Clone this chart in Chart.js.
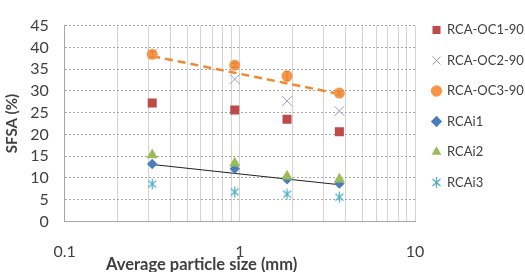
<!DOCTYPE html>
<html>
<head>
<meta charset="utf-8">
<script src="https://cdn.jsdelivr.net/npm/chart.js@4.4.1/dist/chart.umd.min.js"></script>
<style>
  html, body { margin: 0; padding: 0; background: #fff; }
  #wrap { position: relative; width: 525px; height: 272px; }
</style>
</head>
<body>
<div id="wrap"><canvas id="sfsaChart"></canvas></div>
<script>
// particle size (mm)
const sizes = [0.316, 0.935, 1.86, 3.70];

const oc1 = [27.2, 25.6, 23.5, 20.6];
const oc2 = [38.6, 32.7, 27.7, 25.4];
const oc3 = [38.4, 35.9, 33.4, 29.5];
const oc3Err = [0.6, 0.5, 1.1, 0.4];
const rcai1 = [13.2, 12.1, 9.7, 8.7];
const rcai2 = [15.3, 13.4, 10.4, 9.7];
const rcai3 = [8.6, 6.8, 6.3, 5.6];

// trend lines (ends at first and last size)
const oc3Trend = [38.0, 29.3];
const rcai1Trend = [13.1, 8.45];

const xGrid = [0.1, 0.2, 0.3, 0.4, 0.5, 0.6, 0.7, 0.8, 0.9, 1, 2, 3, 4, 5, 6, 7, 8, 9, 10];
const xLabels = [0.1, 1, 10];
const seriesNames = ['RCA-OC1-90', 'RCA-OC2-90', 'RCA-OC3-90', 'RCAi1', 'RCAi2', 'RCAi3'];

const FONT = 'Lato, "Open Sans", sans-serif';
const TXT = '#404040';

function pts(ys) {
    return ys.map((y, i) => ({ x: sizes[i], y: y }));
}
function ends(ys) {
    return [{ x: sizes[0], y: ys[0] }, { x: sizes[sizes.length - 1], y: ys[1] }];
}

// Excel style asterisk marker: vertical bar plus an x
function asterisk(color) {
    const c = document.createElement('canvas');
    c.width = 13; c.height = 13;
    const g = c.getContext('2d');
    g.strokeStyle = color;
    g.lineWidth = 1.2;
    g.beginPath();
    g.moveTo(6.5, 1); g.lineTo(6.5, 12);
    g.moveTo(2.5, 3); g.lineTo(10.5, 10);
    g.moveTo(10.5, 3); g.lineTo(2.5, 10);
    g.stroke();
    return c;
}

const errorBars = {
    id: 'errorBars',
    afterDatasetsDraw(chart) {
        const { ctx, scales } = chart;
        ctx.save();
        ctx.strokeStyle = '#e07f35';
        ctx.lineWidth = 1;
        oc3.forEach((v, i) => {
            const x = scales.x.getPixelForValue(sizes[i]);
            const y1 = scales.y.getPixelForValue(v - oc3Err[i]);
            const y2 = scales.y.getPixelForValue(v + oc3Err[i]);
            ctx.beginPath();
            ctx.moveTo(x, y1); ctx.lineTo(x, y2);
            ctx.moveTo(x - 3, y1); ctx.lineTo(x + 3, y1);
            ctx.moveTo(x - 3, y2); ctx.lineTo(x + 3, y2);
            ctx.stroke();
        });
        ctx.restore();
    }
};

// x axis title sits left of centre in the original
const xTitle = {
    id: 'xTitle',
    afterDraw(chart) {
        const ctx = chart.ctx;
        ctx.save();
        ctx.font = 'bold 16.5px ' + FONT;
        ctx.fillStyle = TXT;
        ctx.textAlign = 'center';
        ctx.textBaseline = 'middle';
        ctx.fillText('Average particle size (mm)', chart.width * 0.384, chart.height - 7);
        ctx.restore();
    }
};

const ctx = document.getElementById('sfsaChart');
new Chart(ctx, {
    type: 'scatter',
    data: {
        datasets: [
            { label: seriesNames[0], data: pts(oc1), pointStyle: 'rect', pointRadius: 6.4,
              backgroundColor: '#be4b48', borderColor: '#be4b48', borderWidth: 0, order: 6 },
            { label: seriesNames[1], data: pts(oc2), pointStyle: 'crossRot', pointRadius: 7,
              backgroundColor: '#a09cc8', borderColor: '#a09cc8', borderWidth: 1, order: 5 },
            { label: seriesNames[2], data: pts(oc3), pointStyle: 'circle', pointRadius: 5.5,
              backgroundColor: '#f79646', borderColor: '#f79646', borderWidth: 0, order: 4 },
            { label: seriesNames[3], data: pts(rcai1), pointStyle: 'rectRot', pointRadius: 5.2,
              backgroundColor: '#4a7ebb', borderColor: '#4a7ebb', borderWidth: 0, order: 3 },
            { label: seriesNames[4], data: pts(rcai2), pointStyle: 'triangle', pointRadius: 6.5,
              backgroundColor: '#9bbb59', borderColor: '#9bbb59', borderWidth: 0, order: 2 },
            { label: seriesNames[5], data: pts(rcai3), pointStyle: asterisk('#4bacc6'), pointRadius: 6,
              backgroundColor: '#4bacc6', borderColor: '#4bacc6', borderWidth: 1, order: 1 },
            { label: 'trend-oc3', data: ends(oc3Trend), showLine: true, pointRadius: 0,
              borderColor: '#f08a30', borderWidth: 2.5, borderDash: [8, 5], order: 7 },
            { label: 'trend-rcai1', data: ends(rcai1Trend), showLine: true, pointRadius: 0,
              borderColor: '#222', borderWidth: 1, order: 7 }
        ]
    },
    options: {
        responsive: true,
        maintainAspectRatio: false,
        animation: false,
        layout: { padding: { top: 6, right: 0, bottom: 0, left: 0 } },
        plugins: {
            legend: {
                position: 'right',
                align: 'start',
                maxWidth: 110,
                labels: {
                    usePointStyle: true,
                    boxWidth: 8,
                    boxHeight: 8,
                    padding: 17.5,
                    color: TXT,
                    font: { family: FONT, size: 13 },
                    sort: (a, b) => a.datasetIndex - b.datasetIndex,
                    filter: item => item.datasetIndex < seriesNames.length
                }
            },
            tooltip: { enabled: false }
        },
        scales: {
            x: {
                type: 'logarithmic',
                min: 0.1,
                max: 10,
                afterBuildTicks: s => { s.ticks = xGrid.map(v => ({ value: v })); },
                afterFit: s => { s.height = 50.5; },
                grid: { color: '#d4d4d4', drawTicks: false },
                border: { color: '#a6a6a6' },
                ticks: {
                    autoSkip: false,
                    maxRotation: 0,
                    padding: 21,
                    color: TXT,
                    font: { family: FONT, size: 16 },
                    callback: v => xLabels.includes(v) ? String(v) : ''
                }
            },
            y: {
                min: 0,
                max: 45,
                afterFit: s => { s.width = 64.7; },
                grid: { color: '#a8a8a8', drawTicks: false },
                border: { color: '#a6a6a6', dash: [2, 2] },
                ticks: {
                    stepSize: 5,
                    autoSkip: false,
                    padding: 16,
                    color: TXT,
                    font: { family: FONT, size: 16 }
                },
                title: {
                    display: true,
                    text: 'SFSA (%)',
                    color: TXT,
                    font: { family: FONT, size: 15, weight: 'bold' },
                    padding: { top: 3, bottom: 0 }
                }
            }
        }
    },
    plugins: [errorBars, xTitle]
});
</script>
</body>
</html>
